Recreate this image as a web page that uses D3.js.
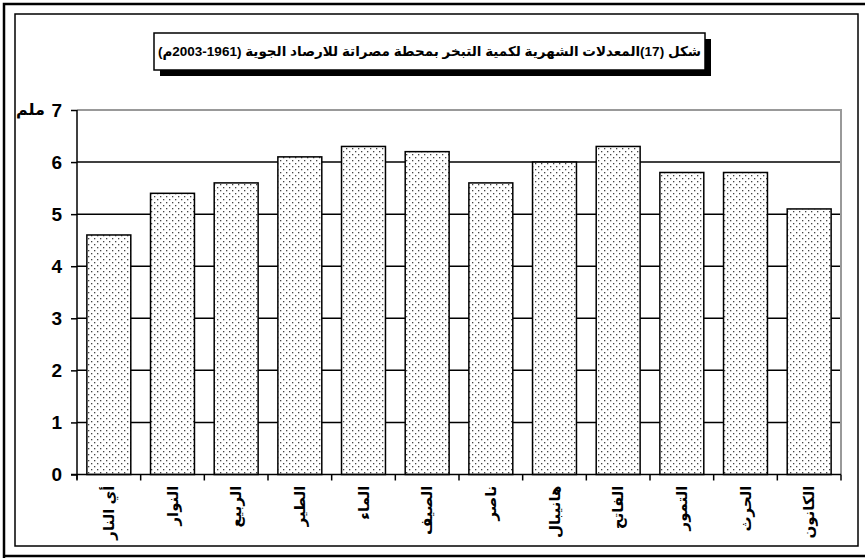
<!DOCTYPE html>
<html>
<head>
<meta charset="utf-8">
<script src="https://cdn.jsdelivr.net/npm/d3@7"></script>
<style>
  body { margin: 0; background: #fff; }
  text { font-family: Arial, "Liberation Sans", "DejaVu Sans", sans-serif; font-weight: bold; }
</style>
</head>
<body>
<div id="chart"></div>
<script>
// monthly evaporation averages, Misurata station
const months = ["أي النار", "النوار", "الربيع", "الطير", "الماء", "الصيف",
                "ناصر", "هانيبال", "الفاتح", "التمور", "الحرث", "الكانون"];
const values = [4.6, 5.4, 5.6, 6.1, 6.3, 6.2, 5.6, 6.0, 6.3, 5.8, 5.8, 5.1];
const yTicks = [0, 1, 2, 3, 4, 5, 6, 7];
const titleText = "شكل (17)المعدلات الشهرية لكمية التبخر بمحطة مصراتة للارصاد الجوية (1961-2003م)";
const unitLabel = "ملم";

const width = 865, height = 558;
const plot = {left: 77, right: 841, top: 110, bottom: 474.5};

let svg = d3.select("#chart").append("svg").attr("width", width).attr("height", height);

// dotted fill for the bars
let pat = svg.append("defs").append("pattern").attr("id", "dots")
    .attr("patternUnits", "userSpaceOnUse").attr("width", 6).attr("height", 6);
pat.append("rect").attr("width", 6).attr("height", 6).attr("fill", "#fff");
pat.append("rect").attr("x", 1).attr("y", 1).attr("width", 1.3).attr("height", 1.3).attr("fill", "#444");
pat.append("rect").attr("x", 4).attr("y", 4).attr("width", 1.3).attr("height", 1.3).attr("fill", "#444");

// outer frames
svg.append("path").attr("d", "M4,560 L4,4 L870,4").attr("fill", "none").attr("stroke", "#000").attr("stroke-width", 2.5);
svg.append("line").attr("x1", 4).attr("x2", 870).attr("y1", 556).attr("y2", 556).attr("stroke", "#000").attr("stroke-width", 2.5);
svg.append("rect").attr("x", 15).attr("y", 14).attr("width", 843).attr("height", 532)
    .attr("fill", "none").attr("stroke", "#000").attr("stroke-width", 1.5);

let x = d3.scaleBand().domain(months).range([plot.left, plot.right]).paddingInner(0.31).paddingOuter(0.155);
let xEdge = d3.scaleLinear().domain([0, months.length]).range([plot.left, plot.right]);
let y = d3.scaleLinear().domain([0, 7]).range([plot.bottom, plot.top]);

// gridlines
svg.append("g").selectAll("line").data(yTicks.filter(d => d > 0 && d < 7)).join("line")
    .attr("x1", plot.left).attr("x2", plot.right)
    .attr("y1", d => y(d)).attr("y2", d => y(d))
    .attr("stroke", "#000").attr("stroke-width", 1.5);

// plot area border (top and right, grey)
svg.append("path")
    .attr("d", `M${plot.left},${y(7)} L${plot.right},${y(7)} L${plot.right},${plot.bottom}`)
    .attr("fill", "none").attr("stroke", "#999").attr("stroke-width", 2);

// bars
svg.append("g").selectAll("rect").data(values).join("rect")
    .attr("x", (d, i) => x(months[i]))
    .attr("width", x.bandwidth())
    .attr("y", d => y(d))
    .attr("height", d => y(0) - y(d))
    .attr("fill", "url(#dots)").attr("stroke", "#000").attr("stroke-width", 1.5);

// y axis
let yAxis = d3.axisLeft(y).tickValues(yTicks).tickSize(6).tickPadding(9).tickFormat(d3.format("d"));
let gy = svg.append("g").attr("transform", `translate(${plot.left},0)`).call(yAxis);
gy.select(".domain").remove();
gy.selectAll(".tick line").attr("stroke", "#000").attr("stroke-width", 1.5);
gy.selectAll(".tick text").attr("font-size", 19).attr("fill", "#000")
    .style("font-family", "Arial, 'Liberation Sans', 'DejaVu Sans', sans-serif");
svg.append("line").attr("x1", plot.left).attr("x2", plot.left).attr("y1", plot.top).attr("y2", plot.bottom + 5)
    .attr("stroke", "#000").attr("stroke-width", 1.5);

// unit next to the top tick
svg.append("text").attr("x", 45).attr("y", y(7)).attr("dy", "0.3em")
    .attr("text-anchor", "end").attr("font-size", 16).attr("fill", "#000")
    .text(unitLabel);

// x axis
svg.append("line").attr("x1", plot.left - 6).attr("x2", plot.right).attr("y1", plot.bottom).attr("y2", plot.bottom)
    .attr("stroke", "#000").attr("stroke-width", 1.5);
svg.append("g").selectAll("line").data(d3.range(months.length + 1)).join("line")
    .attr("x1", d => xEdge(d)).attr("x2", d => xEdge(d))
    .attr("y1", plot.bottom).attr("y2", plot.bottom + 6)
    .attr("stroke", "#000").attr("stroke-width", 1.5);

svg.append("g").selectAll("text").data(months).join("text")
    .attr("transform", d => `translate(${x(d) + x.bandwidth() / 2},${plot.bottom + 11}) rotate(-90)`)
    .attr("text-anchor", "end").attr("dy", "0.35em")
    .attr("font-size", 15).attr("fill", "#000")
    .text(d => d);

// title box with shadow
let tb = {x: 154, y: 33, w: 551, h: 37};
svg.append("rect").attr("x", tb.x + 6).attr("y", tb.y + 6).attr("width", tb.w).attr("height", tb.h).attr("fill", "#000");
svg.append("rect").attr("x", tb.x).attr("y", tb.y).attr("width", tb.w).attr("height", tb.h)
    .attr("fill", "#fff").attr("stroke", "#000").attr("stroke-width", 1.5);
svg.append("text").attr("x", tb.x + tb.w / 2).attr("y", tb.y + tb.h / 2 + 1)
    .attr("text-anchor", "middle").attr("dominant-baseline", "middle")
    .attr("font-size", 13.5).attr("fill", "#000")
    .text(titleText);
</script>
</body>
</html>
